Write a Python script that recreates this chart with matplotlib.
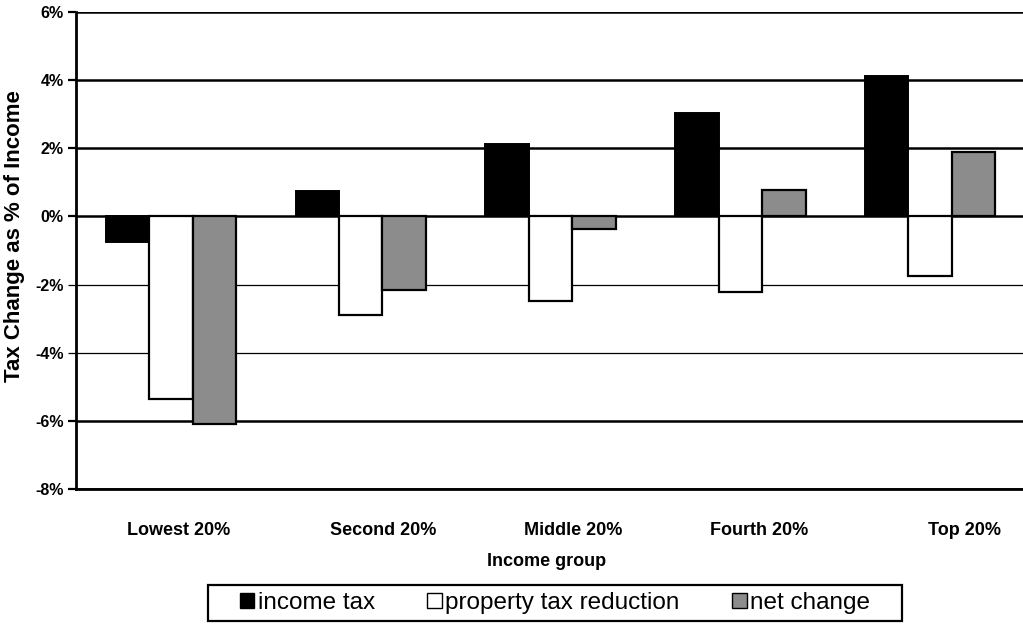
"""
Tax change by income quintile: income tax, property tax reduction and net change.
"""
import matplotlib.pyplot as plt
from matplotlib.patches import Patch, Rectangle
import numpy as np

plt.rcParams['font.family'] = ['Liberation Sans', 'DejaVu Sans']

groups = ['Lowest 20%', 'Second 20%', 'Middle 20%', 'Fourth 20%', 'Top 20%']
income_tax = [-0.76, 0.73, 2.11, 3.02, 4.12]
property_tax = [-5.37, -2.88, -2.47, -2.23, -1.75]
net_change = [-6.1, -2.17, -0.36, 0.78, 1.88]
yticks = [-8, -6, -4, -2, 0, 2, 4, 6]
# lines drawn thin in the gridline set
thin_lines = [-2, -4]
# per-label horizontal nudge (category units)
label_shift = [0.04, 0.12, 0.12, 0.10, 0.18]


def main():
    fig = plt.figure(figsize=(10.23, 6.25), dpi=100)
    ax = fig.add_axes([0.0743, 0.2176, 0.9277, 0.7634])

    x = np.arange(len(groups))
    w = 0.229
    gray = '#8c8c8c'

    ax.bar(x - w, income_tax, w, color='black', edgecolor='black',
           linewidth=1.4, zorder=3)
    ax.bar(x, property_tax, w, color='white', edgecolor='black',
           linewidth=1.6, zorder=3)
    ax.bar(x + w, net_change, w, color=gray, edgecolor='black',
           linewidth=1.6, zorder=3)

    ax.set_xlim(-0.5, len(groups) - 0.5)
    ax.set_ylim(-8, 6)
    ax.set_yticks(yticks)
    ax.set_yticklabels([f'{v}%' for v in yticks], fontsize=11.5, fontweight='bold')
    ax.set_xticks(x + np.array(label_shift))
    ax.set_xticklabels(groups, fontsize=13, fontweight='bold')
    ax.tick_params(axis='x', length=0, pad=24)
    ax.tick_params(axis='y', length=6, width=1.6, pad=3)

    ax.yaxis.grid(True, color='black', linewidth=1.8, zorder=1)
    ax.set_axisbelow(True)
    for val, gl, tl in zip(yticks, ax.get_ygridlines(), ax.yaxis.get_ticklines()[::2]):
        if val in thin_lines:
            gl.set_linewidth(0.9)
            tl.set_markeredgewidth(0.9)

    for side in ['top', 'right']:
        ax.spines[side].set_visible(False)
    ax.spines['left'].set_linewidth(2)
    ax.spines['bottom'].set_linewidth(2)

    ax.set_ylabel('Tax Change as % of Income', fontsize=16, fontweight='bold')
    ax.yaxis.set_label_coords(-0.0537, 0.53)
    ax.set_xlabel('Income group', fontsize=13, fontweight='bold')
    ax.xaxis.set_label_coords(0.496, -0.134)

    handles = [Patch(facecolor='black', edgecolor='black', linewidth=1),
               Patch(facecolor='white', edgecolor='black', linewidth=1),
               Patch(facecolor=gray, edgecolor='black', linewidth=1)]
    labels = ['income tax', 'property tax reduction', 'net change']
    fig.legend(handles, labels, loc='center', bbox_to_anchor=(0.5425, 0.0352),
               ncol=3, fontsize=17.5, frameon=False,
               handlelength=0.6, handleheight=0.6, handletextpad=0.15,
               columnspacing=2.15, borderpad=0.0)
    # legend box, wider than the entries
    fig.patches.append(Rectangle((0.2033, 0.0064), 0.6784, 0.0576,
                                 transform=fig.transFigure, fill=False,
                                 edgecolor='black', linewidth=1.6))

    fig.savefig('out.png', dpi=100)
    plt.close(fig)


if __name__ == '__main__':
    main()
